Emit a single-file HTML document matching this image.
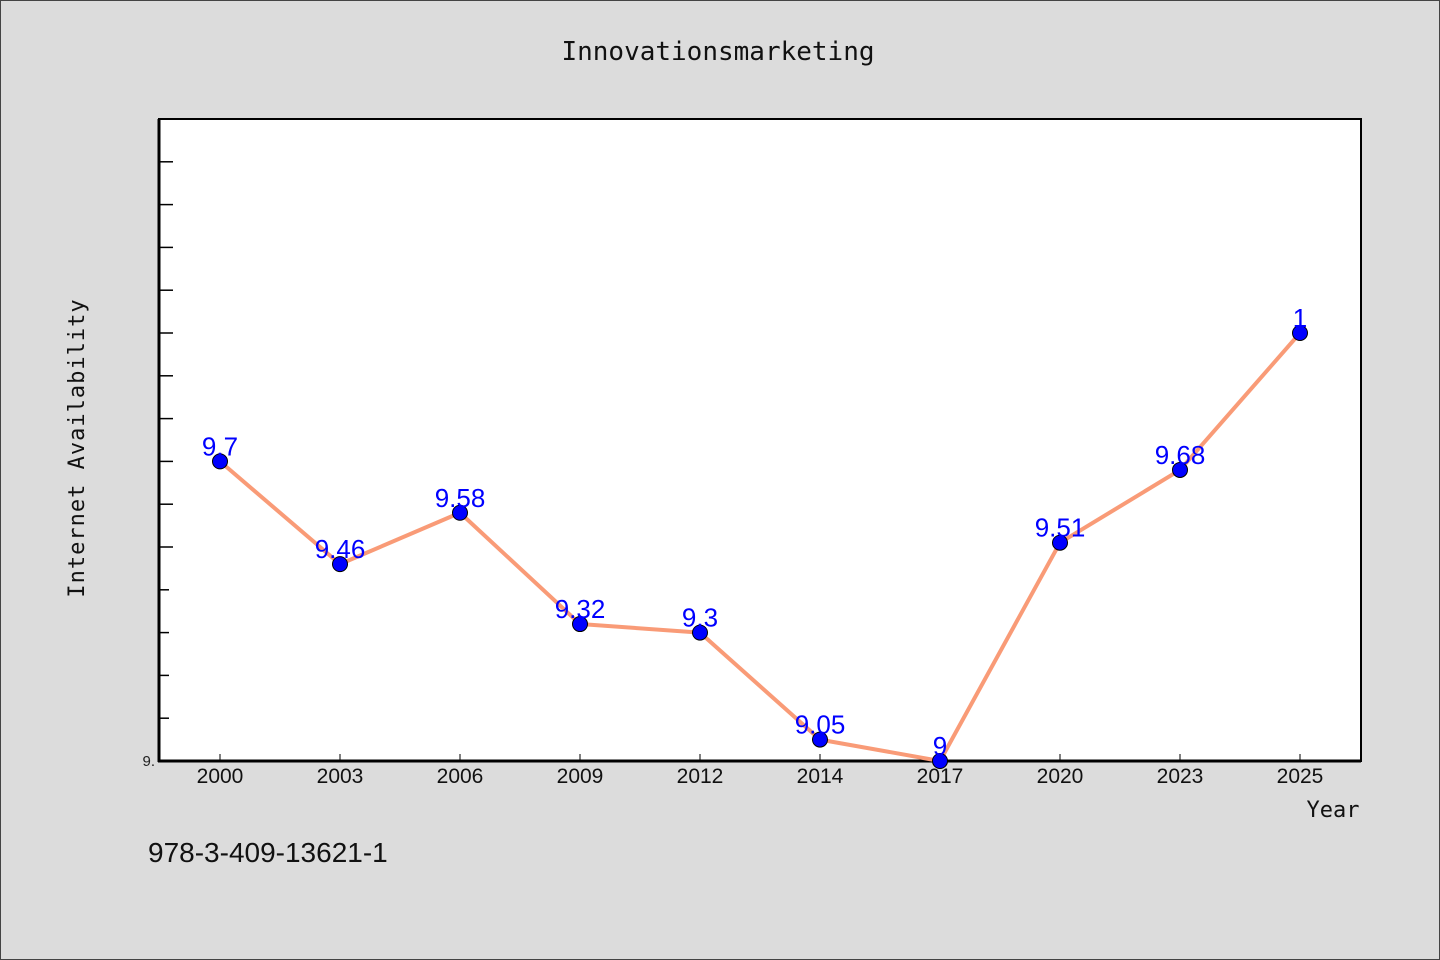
<!DOCTYPE html>
<html><head><meta charset="utf-8"><style>
html,body{margin:0;padding:0;background:#dcdcdc;}
svg{display:block;font-family:"Liberation Sans","WenQuanYi Zen Hei",sans-serif;}
</style></head><body>
<svg width="1440" height="960">
<rect x="0.5" y="0.5" width="1439" height="959" fill="#dcdcdc" stroke="#444"/>
<text x="718" y="60" text-anchor="middle" font-size="26" fill="#111" font-family="'WenQuanYi Zen Hei',monospace">Innovationsmarketing</text>
<rect x="159" y="119" width="1202" height="642" fill="#fff" stroke="#000" stroke-width="2"/>
<g id="yticks"></g><g id="xticks"></g>
<line x1="159" y1="119" x2="159" y2="762" stroke="#000" stroke-width="3"/>
<line x1="158" y1="761" x2="1361" y2="761" stroke="#000" stroke-width="3"/>
<text x="155" y="766" text-anchor="end" font-size="15" fill="#222">9.</text>
<g id="series"></g>
<text x="1333" y="817" text-anchor="middle" font-size="22" fill="#111" font-family="'WenQuanYi Zen Hei',monospace">Year</text>
<text transform="translate(84,448) rotate(-90)" text-anchor="middle" font-size="22" fill="#111" font-family="'WenQuanYi Zen Hei',monospace" letter-spacing="1">Internet Availability</text>
<text x="148" y="862" font-size="28" fill="#111" font-family="'WenQuanYi Zen Hei',sans-serif">978-3-409-13621-1</text>
</svg>
<script>
const categories=["2000","2003","2006","2009","2012","2014","2017","2020","2023","2025"];
const values=[9.7,9.46,9.58,9.32,9.3,9.05,9,9.51,9.68,10];
const labels=["9.7","9.46","9.58","9.32","9.3","9.05","9","9.51","9.68","1"];
const yMin=9,yMax=10.5;
const NS="http://www.w3.org/2000/svg";
function xs(i){return 220+i*120;}
function ys(v){return 761-(v-yMin)/(yMax-yMin)*642;}
function mk(t,a,p){const e=document.createElementNS(NS,t);for(const k in a)e.setAttribute(k,a[k]);p.appendChild(e);return e;}
const yt=document.getElementById('yticks');
for(let k=1;k<15;k++){const v=yMin+k*0.1;const y=ys(v);
 const l=mk('line',{x1:159,x2:v>9.45?173:169,y1:y,y2:y,stroke:'#000','stroke-width':1.5},yt);
 
 }
const xt=document.getElementById('xticks');
categories.forEach((c,i)=>{
 const l=mk('line',{x1:xs(i),x2:xs(i),y1:754,y2:761,stroke:'#000','stroke-width':1},xt);
 
 
 const t=mk('text',{x:xs(i),y:783,'text-anchor':'middle','font-size':21,fill:'#111','font-family':"'WenQuanYi Zen Hei',sans-serif"},xt);
 t.textContent=c;
 
 
});
const s=document.getElementById('series');
const pl=mk('polyline',{points:values.map((v,i)=>xs(i)+','+ys(v)).join(' '),fill:'none',stroke:'#f99b77','stroke-width':4,'stroke-linejoin':'round'},s);


values.forEach((v,i)=>{
 const c=mk('circle',{cx:xs(i),cy:ys(v),r:7.5,fill:'#0000ff',stroke:'#000','stroke-width':1},s);
 
 
 const t=mk('text',{x:xs(i),y:ys(v)-6,'text-anchor':'middle','font-size':26,fill:'#0000ff','font-family':"'WenQuanYi Zen Hei',sans-serif"},s);
 t.textContent=labels[i];
 
 
});
</script>
</body></html>
